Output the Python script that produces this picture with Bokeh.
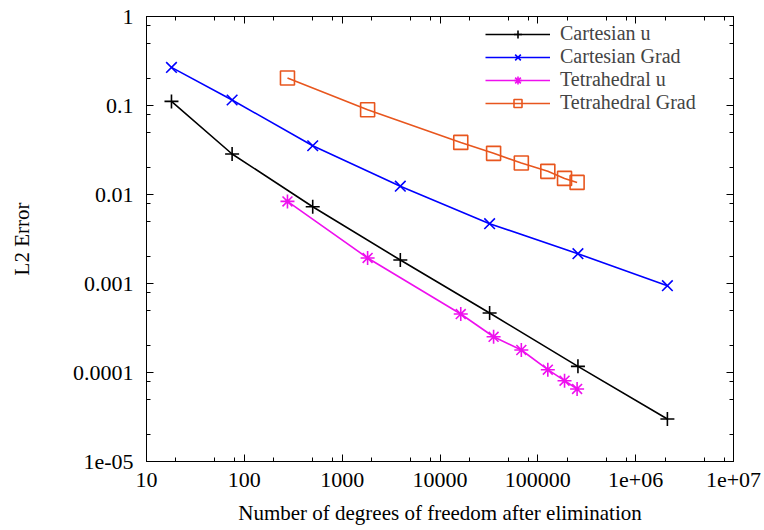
from bokeh.plotting import figure
from bokeh.models import LogAxis, FixedTicker, Legend, LegendItem
from bokeh.embed import file_html
from bokeh.resources import INLINE

# ---- data ----
cart_dof = [18, 75, 500, 3930, 32150, 257000, 2.11e6]
cart_u = [0.1112, 0.0285, 0.00729, 0.001836, 0.000466, 0.0001172, 3.0e-5]
cart_grad = [0.268, 0.1153, 0.0353, 0.0124, 0.0047, 0.00216, 0.000944]

tet_dof = [276, 1820, 16300, 35300, 67800, 126500, 187500, 252000]
tet_u = [0.00836, 0.001935, 0.000454, 0.000252, 0.000179, 0.0001075, 8.09e-5, 6.53e-5]
tet_grad = [0.2037, 0.0897, 0.0385, 0.0290, 0.0226, 0.0182, 0.01517, 0.01368]

x_ticks = [10, 100, 1000, 10000, 100000, 1e6, 1e7]
x_tick_labels = ["10", "100", "1000", "10000", "100000", "1e+06", "1e+07"]
y_ticks = [1e-5, 1e-4, 1e-3, 1e-2, 1e-1, 1]
y_tick_labels = ["1e-05", "0.0001", "0.001", "0.01", "0.1", "1"]

FONT = "'Liberation Serif', 'Times New Roman', serif"
FS = "21px"
TFS = "22px"
LFS = "20px"

x_minor = [d * m for d in x_ticks[:-1] for m in (2, 5, 8)]
y_minor = [d * m for d in y_ticks[:-1] for m in (2, 5, 8)]

p = figure(width=764, height=530, x_axis_type="log", y_axis_type="log",
           x_range=(10, 1e7), y_range=(1e-5, 1),
           output_backend="svg", toolbar_location=None,
           min_border_left=146, min_border_right=31,
           min_border_top=16, min_border_bottom=69)
p.grid.visible = False
p.outline_line_color = "black"
p.outline_line_width = 1
p.background_fill_color = "white"
p.border_fill_color = "white"

xt = FixedTicker(ticks=x_ticks, minor_ticks=x_minor)
yt = FixedTicker(ticks=y_ticks, minor_ticks=y_minor)

def style_axis(ax, labels=True):
    ax.major_tick_in = 7
    ax.major_tick_out = 0
    ax.minor_tick_in = 4
    ax.minor_tick_out = 0
    ax.axis_line_color = "black"
    ax.major_tick_line_color = "black"
    ax.minor_tick_line_color = "black"
    ax.major_label_text_font = FONT
    if labels:
        ax.major_label_text_font_size = TFS
        ax.major_label_text_color = "black"
    else:
        ax.major_label_text_font_size = "1px"
        ax.major_label_text_alpha = 0
    ax.axis_label_text_font = FONT
    ax.axis_label_text_font_size = FS
    ax.axis_label_text_font_style = "normal"
    ax.axis_label_text_color = "black"

xa = p.xaxis[0]
xa.ticker = xt
xa.major_label_overrides = {t: l for t, l in zip(x_ticks, x_tick_labels)}
xa.axis_label = "Number of degrees of freedom after elimination"
style_axis(xa)
xa.major_label_standoff = 11
xa.axis_label_standoff = 11

ya = p.yaxis[0]
ya.ticker = yt
ya.major_label_overrides = {t: l for t, l in zip(y_ticks, y_tick_labels)}
ya.axis_label = "L2 Error"
style_axis(ya)
ya.major_label_standoff = 13
ya.axis_label_standoff = 36

top = LogAxis(ticker=xt)
style_axis(top, labels=False)
top.major_label_standoff = 0
p.add_layout(top, "above")
right = LogAxis(ticker=yt)
style_axis(right, labels=False)
right.major_label_standoff = 0
p.add_layout(right, "right")

LW = 1.6
r1 = p.line(cart_dof, cart_u, color="black", line_width=LW)
m1 = p.scatter(cart_dof, cart_u, marker="cross", size=14, line_color="black", line_width=LW)
r2 = p.line(cart_dof, cart_grad, color="#0000ff", line_width=LW)
m2 = p.scatter(cart_dof, cart_grad, marker="x", size=15, line_color="#0000ff", line_width=LW)
r3 = p.line(tet_dof, tet_u, color="#ee10ee", line_width=LW)
m3 = p.scatter(tet_dof, tet_u, marker="asterisk", size=14, line_color="#ee10ee", line_width=LW)
r4 = p.line(tet_dof, tet_grad, color="#e8561e", line_width=LW)
m4 = p.scatter(tet_dof, tet_grad, marker="square", size=14, line_color="#e8561e",
               fill_color=None, line_width=LW)

legend = Legend(items=[
    LegendItem(label="Cartesian u", renderers=[r1, m1]),
    LegendItem(label="Cartesian Grad", renderers=[r2, m2]),
    LegendItem(label="Tetrahedral u", renderers=[r3, m3]),
    LegendItem(label="Tetrahedral Grad", renderers=[r4, m4]),
], location=(339, 347))
legend.border_line_color = None
legend.background_fill_alpha = 0
legend.label_text_font = FONT
legend.label_text_font_size = LFS
legend.glyph_width = 65
legend.glyph_height = 20
legend.label_height = 20
legend.spacing = 0
legend.padding = 4
legend.margin = 0
legend.label_standoff = 10
p.add_layout(legend)

open("out.html", "w").write(file_html(p, INLINE))
